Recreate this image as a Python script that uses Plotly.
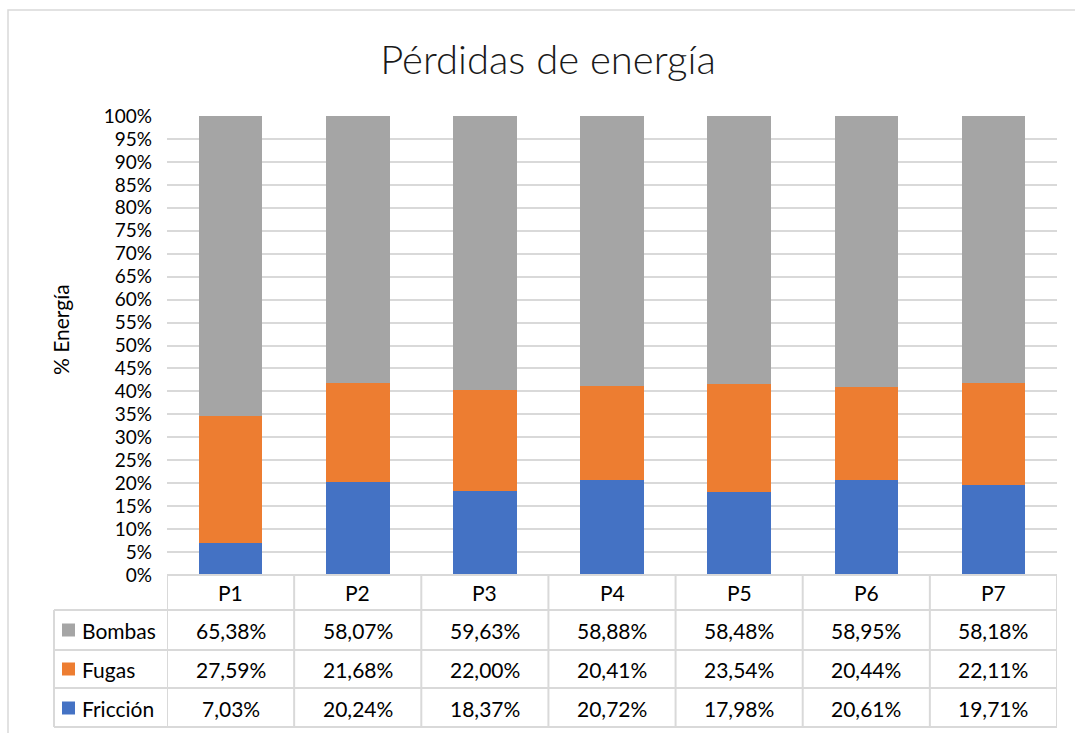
import plotly.graph_objects as go

categories = ["P1", "P2", "P3", "P4", "P5", "P6", "P7"]
bombas = [65.38, 58.07, 59.63, 58.88, 58.48, 58.95, 58.18]
fugas = [27.59, 21.68, 22.00, 20.41, 23.54, 20.44, 22.11]
friccion = [7.03, 20.24, 18.37, 20.72, 17.98, 20.61, 19.71]
tick_vals = [i * 5 for i in range(21)]
tick_text = [f"{v}%" for v in tick_vals]

series = [("Fricción", friccion, "#4472C4"),
          ("Fugas", fugas, "#ED7D31"),
          ("Bombas", bombas, "#A5A5A5")]

W, H = 1075, 733
L, R, T, B = 167, 1057, 116, 575
FONT = "Lato"
GRID = "#D9D9D9"
TXT = 21

def px_x(p):
    return (p - L) / (R - L)

def px_y(p):
    return (B - p) / (B - T)

fig = go.Figure()
for name, vals, col in series:
    fig.add_trace(go.Bar(x=categories, y=vals, name=name, marker_color=col,
                         marker_line_width=0, showlegend=False))

shapes = []
annotations = []

# outer frame
shapes.append(dict(type="rect", xref="paper", yref="paper",
                   x0=px_x(8), x1=px_x(1090), y0=px_y(750), y1=px_y(10),
                   line=dict(color=GRID, width=1.5), layer="below"))

# table horizontal lines
row_lines = [610, 650, 688, 727]
shapes.append(dict(type="line", xref="paper", yref="paper", x0=0, x1=1,
                   y0=0, y1=0, line=dict(color=GRID, width=2)))
for p in row_lines:
    shapes.append(dict(type="line", xref="paper", yref="paper", x0=px_x(54), x1=1,
                       y0=px_y(p), y1=px_y(p), line=dict(color=GRID, width=2)))
# vertical lines
for i in range(len(categories) + 1):
    shapes.append(dict(type="line", xref="x", yref="paper", x0=i - 0.5, x1=i - 0.5,
                       y0=0, y1=px_y(727), line=dict(color=GRID, width=2)))
shapes.append(dict(type="line", xref="paper", yref="paper", x0=px_x(54), x1=px_x(54),
                   y0=px_y(610), y1=px_y(727), line=dict(color=GRID, width=2)))

# header labels
for c in categories:
    annotations.append(dict(x=c, y=px_y(592), xref="x", yref="paper", text=c,
                            xanchor="center", yanchor="middle", showarrow=False,
                            font=dict(family=FONT, size=TXT, color="#000000")))

# rows
row_centers = [630, 669, 708]
table_rows = [("Bombas", bombas, "#A5A5A5"), ("Fugas", fugas, "#ED7D31"),
              ("Fricción", friccion, "#4472C4")]
for (name, vals, col), yc in zip(table_rows, row_centers):
    shapes.append(dict(type="rect", xref="paper", yref="paper",
                       x0=px_x(62), x1=px_x(75), y0=px_y(yc + 6.5), y1=px_y(yc - 6.5),
                       fillcolor=col, line=dict(width=0)))
    annotations.append(dict(x=px_x(80), y=px_y(yc), xref="paper", yref="paper",
                            text=name, xanchor="left", yanchor="middle", showarrow=False,
                            font=dict(family=FONT, size=TXT, color="#000000")))
    for c, v in zip(categories, vals):
        txt = f"{v:.2f}".replace(".", ",") + "%"
        annotations.append(dict(x=c, y=px_y(yc), xref="x", yref="paper", text=txt,
                                xanchor="center", yanchor="middle", showarrow=False,
                                font=dict(family=FONT, size=TXT, color="#000000")))

# y axis title
annotations.append(dict(x=px_x(60), y=px_y(330), xref="paper", yref="paper",
                        text="% Energía", textangle=-90, showarrow=False,
                        xanchor="center", yanchor="middle",
                        font=dict(family=FONT, size=21, color="#000000")))

fig.update_layout(
    width=W, height=H,
    margin=dict(l=L, r=W - R, t=T, b=H - B, pad=0),
    paper_bgcolor="white", plot_bgcolor="white",
    barmode="stack", bargap=0.5,
    title=dict(text="Pérdidas de energía", x=548 / W, xanchor="center",
               y=1 - 60 / H, yanchor="middle",
               font=dict(family=FONT, size=40, color="#1a1a1a", weight=300)),
    xaxis=dict(range=[-0.5, 6.5], showticklabels=False, showgrid=False,
               zeroline=False, showline=False, ticks=""),
    yaxis=dict(range=[0, 100], tickvals=tick_vals, ticktext=tick_text,
               showgrid=True, gridcolor=GRID, gridwidth=2, zeroline=False,
               showline=False, ticks="", ticklabelstandoff=14,
               tickfont=dict(family=FONT, size=19, color="#000000")),
    shapes=shapes, annotations=annotations,
)

fig.write_html("out.html", config={"displayModeBar": False},
               post_script="document.body.style.margin='0';")
